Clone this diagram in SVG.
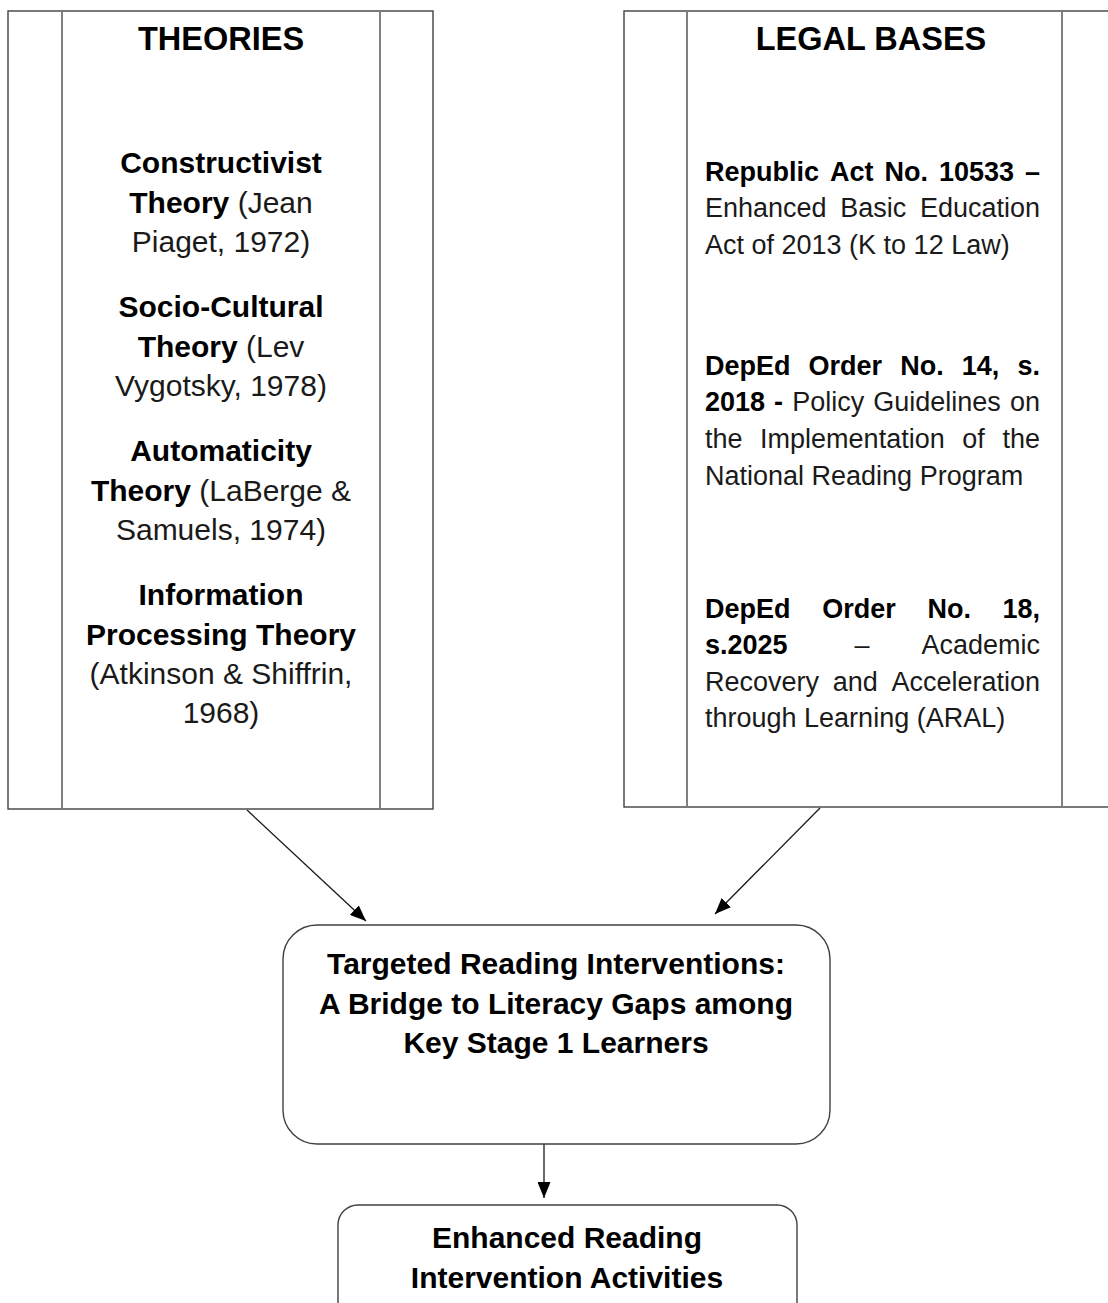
<svg xmlns="http://www.w3.org/2000/svg" width="1108" height="1303" viewBox="0 0 1108 1303">
<style>
.box{fill:#fff;stroke:#404040;stroke-width:1.4}
.inner{stroke:#808080;stroke-width:2;fill:none}
.rbox{fill:#fff;stroke:#404040;stroke-width:1.4}
.conn{stroke:#1a1a1a;stroke-width:1.3;fill:none}
text{font-family:"Liberation Sans",Arial,sans-serif;fill:#000}
.h{font-size:32.5px;font-weight:bold}
.l{font-size:30px;text-anchor:middle;fill:#1a1a1a}
.r{font-size:27px;fill:#1a1a1a}
.b{font-weight:bold;fill:#000}
.m{font-size:30px;font-weight:bold;text-anchor:middle}
</style>
<defs>
<marker id="ah" viewBox="0 0 16 13" refX="16" refY="6.5" markerWidth="16" markerHeight="13" markerUnits="userSpaceOnUse" orient="auto">
<path d="M0,0 L16,6.5 L0,13 Z" fill="#000"/>
</marker>
</defs>
<rect width="1108" height="1303" fill="#fff"/>

<g id="theories">
<rect class="box" x="8" y="11" width="425" height="798"/>
<line class="inner" x1="62" y1="11" x2="62" y2="809"/>
<line class="inner" x1="380" y1="11" x2="380" y2="809"/>
<text class="h" x="221" y="50" text-anchor="middle">THEORIES</text>
<text class="l" x="221" y="173"><tspan class="b">Constructivist</tspan></text>
<text class="l" x="221" y="213"><tspan class="b">Theory</tspan> (Jean</text>
<text class="l" x="221" y="252">Piaget, 1972)</text>
<text class="l" x="221" y="317"><tspan class="b">Socio-Cultural</tspan></text>
<text class="l" x="221" y="357"><tspan class="b">Theory</tspan> (Lev</text>
<text class="l" x="221" y="396">Vygotsky, 1978)</text>
<text class="l" x="221" y="461"><tspan class="b">Automaticity</tspan></text>
<text class="l" x="221" y="501"><tspan class="b">Theory</tspan> (LaBerge &amp;</text>
<text class="l" x="221" y="540">Samuels, 1974)</text>
<text class="l" x="221" y="605"><tspan class="b">Information</tspan></text>
<text class="l" x="221" y="645"><tspan class="b">Processing Theory</tspan></text>
<text class="l" x="221" y="684">(Atkinson &amp; Shiffrin,</text>
<text class="l" x="221" y="723">1968)</text>
</g>

<g id="legal">
<rect class="box" x="624" y="11" width="500" height="796"/>
<line class="inner" x1="687" y1="11" x2="687" y2="807"/>
<line class="inner" x1="1062" y1="11" x2="1062" y2="807"/>
<text class="h" x="871" y="50" text-anchor="middle">LEGAL BASES</text>
<text class="r" y="181"><tspan class="b" x="705">Republic</tspan><tspan class="b" x="830">Act</tspan><tspan class="b" x="884.5">No.</tspan><tspan class="b" x="939">10533</tspan><tspan class="b" x="1040" text-anchor="end">–</tspan></text>
<text class="r" y="217"><tspan x="705">Enhanced</tspan><tspan x="840.3">Basic</tspan><tspan x="1040" text-anchor="end">Education</tspan></text>
<text class="r" x="705" y="254">Act of 2013 (K to 12 Law)</text>
<text class="r" y="375"><tspan class="b" x="705">DepEd</tspan><tspan class="b" x="808.6">Order</tspan><tspan class="b" x="900.2">No.</tspan><tspan class="b" x="961.8">14,</tspan><tspan class="b" x="1040" text-anchor="end">s.</tspan></text>
<text class="r" y="411"><tspan class="b" x="705">2018</tspan><tspan class="b" x="774.1">-</tspan><tspan x="792.2">Policy</tspan><tspan x="873.3">Guidelines</tspan><tspan x="1040" text-anchor="end">on</tspan></text>
<text class="r" y="448"><tspan x="705">the</tspan><tspan x="760.1">Implementation</tspan><tspan x="962.3">of</tspan><tspan x="1040" text-anchor="end">the</tspan></text>
<text class="r" x="705" y="485">National Reading Program</text>
<text class="r" y="618"><tspan class="b" x="705">DepEd</tspan><tspan class="b" x="822.2">Order</tspan><tspan class="b" x="927.4">No.</tspan><tspan class="b" x="1040" text-anchor="end">18,</tspan></text>
<text class="r" y="654"><tspan class="b" x="705">s.2025</tspan><tspan x="854.6">–</tspan><tspan x="1040" text-anchor="end">Academic</tspan></text>
<text class="r" y="691"><tspan x="705">Recovery</tspan><tspan x="832.7">and</tspan><tspan x="1040" text-anchor="end">Acceleration</tspan></text>
<text class="r" x="705" y="727">through Learning (ARAL)</text>
</g>

<g id="connectors">
<line class="conn" x1="247" y1="810" x2="366" y2="921" marker-end="url(#ah)"/>
<line class="conn" x1="820" y1="808" x2="715" y2="914" marker-end="url(#ah)"/>
<line class="conn" x1="544" y1="1144" x2="544" y2="1198" marker-end="url(#ah)"/>
</g>

<g id="interventions">
<rect class="rbox" x="283" y="925" width="547" height="219" rx="34" ry="34"/>
<text class="m" x="556" y="974">Targeted Reading Interventions:</text>
<text class="m" x="556" y="1014">A Bridge to Literacy Gaps among</text>
<text class="m" x="556" y="1053">Key Stage 1 Learners</text>
</g>

<g id="activities">
<rect class="rbox" x="338" y="1205" width="459" height="120" rx="20" ry="20"/>
<text class="m" x="567" y="1248">Enhanced Reading</text>
<text class="m" x="567" y="1288">Intervention Activities</text>
</g>
</svg>
